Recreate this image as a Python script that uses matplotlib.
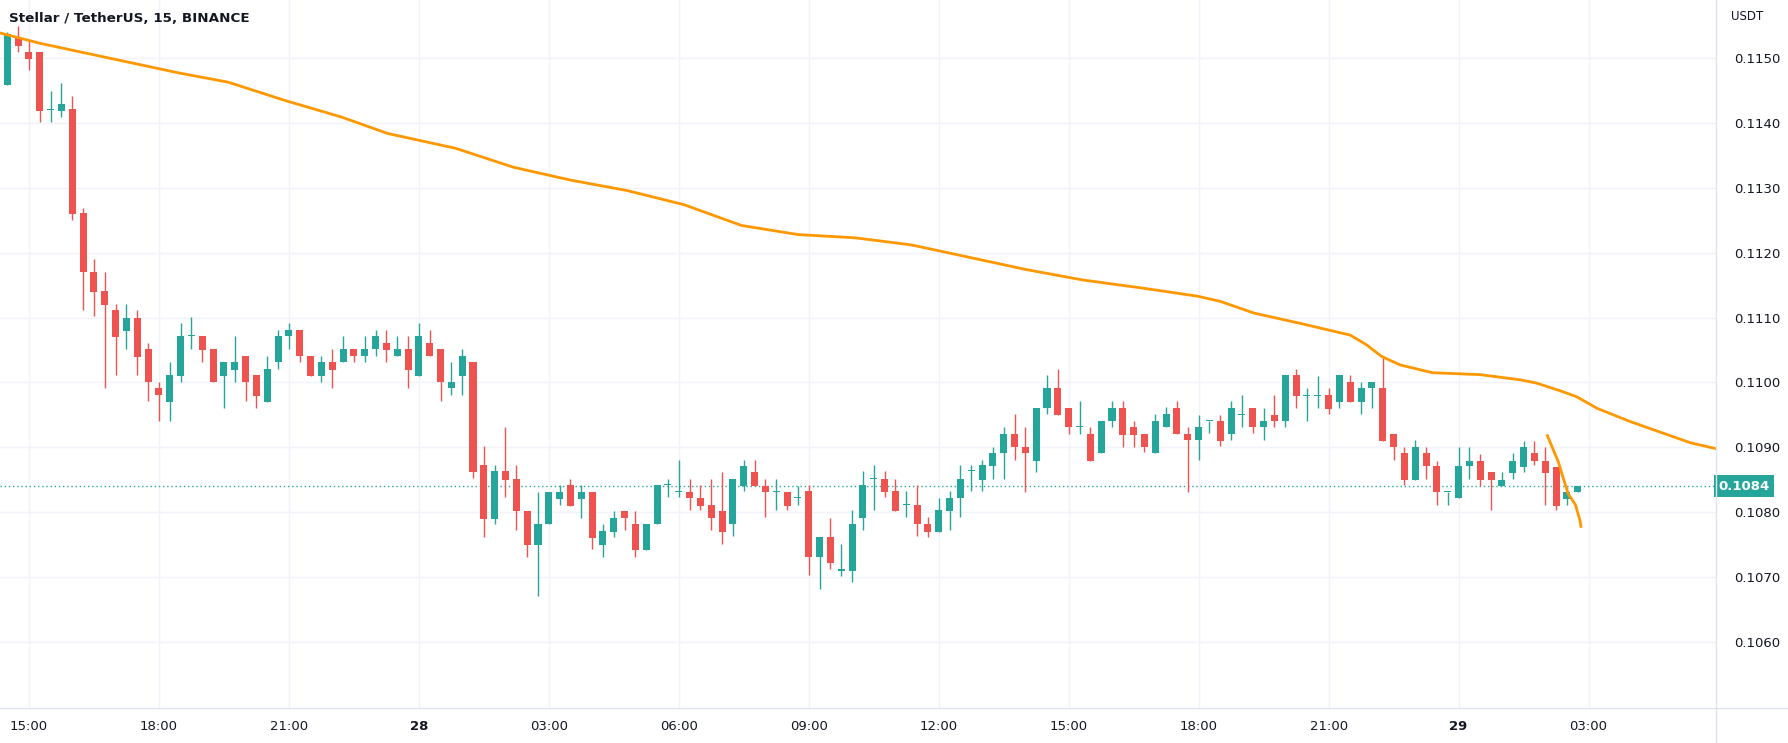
import matplotlib.pyplot as plt
import numpy as np

# 15 min candles, XLM/USDT, first bar 27th 14:30
opens = [0.11459, 0.11531, 0.11509, 0.11509, 0.11420, 0.11419, 0.11421, 0.11261, 0.11171, 0.11141,
         0.11111, 0.11079, 0.11100, 0.11051, 0.10991, 0.10970, 0.11010, 0.11071, 0.11071, 0.11051,
         0.11010, 0.11019, 0.11040, 0.11011, 0.10970, 0.11031, 0.11071, 0.11081, 0.11040, 0.11010,
         0.11031, 0.11031, 0.11051, 0.11040, 0.11051, 0.11061, 0.11040, 0.11051, 0.11010, 0.11061,
         0.11051, 0.10991, 0.11010, 0.11031, 0.10872, 0.10790, 0.10863, 0.10851, 0.10801, 0.10750,
         0.10781, 0.10821, 0.10842, 0.10821, 0.10831, 0.10750, 0.10770, 0.10801, 0.10782, 0.10741,
         0.10781, 0.10842, 0.10831, 0.10831, 0.10822, 0.10811, 0.10802, 0.10781, 0.10841, 0.10862,
         0.10841, 0.10831, 0.10831, 0.10822, 0.10832, 0.10731, 0.10762, 0.10710, 0.10710, 0.10791,
         0.10851, 0.10851, 0.10832, 0.10811, 0.10811, 0.10782, 0.10770, 0.10802, 0.10822, 0.10863,
         0.10850, 0.10871, 0.10891, 0.10921, 0.10900, 0.10879, 0.10960, 0.10991, 0.10961, 0.10931,
         0.10921, 0.10891, 0.10940, 0.10961, 0.10931, 0.10921, 0.10891, 0.10931, 0.10960, 0.10921,
         0.10911, 0.10940, 0.10940, 0.10921, 0.10950, 0.10960, 0.10931, 0.10950, 0.10940, 0.11011,
         0.10979, 0.10979, 0.10981, 0.10970, 0.11000, 0.10970, 0.10991, 0.10991, 0.10921, 0.10891,
         0.10850, 0.10891, 0.10871, 0.10831, 0.10822, 0.10871, 0.10879, 0.10862, 0.10841, 0.10861,
         0.10870, 0.10891, 0.10879, 0.10870, 0.10821, 0.10831]
highs = [0.11540, 0.11549, 0.11528, 0.11509, 0.11450, 0.11462, 0.11441, 0.11269, 0.11190, 0.11171,
         0.11121, 0.11121, 0.11112, 0.11061, 0.11000, 0.11032, 0.11092, 0.11101, 0.11071, 0.11051,
         0.11031, 0.11071, 0.11040, 0.11011, 0.11040, 0.11081, 0.11091, 0.11081, 0.11040, 0.11041,
         0.11051, 0.11071, 0.11051, 0.11071, 0.11081, 0.11081, 0.11071, 0.11071, 0.11092, 0.11081,
         0.11051, 0.11031, 0.11051, 0.11031, 0.10902, 0.10872, 0.10932, 0.10872, 0.10801, 0.10831,
         0.10831, 0.10842, 0.10851, 0.10842, 0.10831, 0.10782, 0.10801, 0.10801, 0.10801, 0.10782,
         0.10842, 0.10851, 0.10881, 0.10851, 0.10842, 0.10851, 0.10862, 0.10851, 0.10881, 0.10881,
         0.10851, 0.10851, 0.10831, 0.10841, 0.10842, 0.10762, 0.10791, 0.10751, 0.10803, 0.10863,
         0.10873, 0.10863, 0.10851, 0.10832, 0.10842, 0.10792, 0.10822, 0.10832, 0.10872, 0.10873,
         0.10881, 0.10901, 0.10931, 0.10951, 0.10931, 0.10961, 0.11011, 0.11021, 0.10961, 0.10971,
         0.10931, 0.10941, 0.10971, 0.10971, 0.10941, 0.10921, 0.10951, 0.10962, 0.10972, 0.10931,
         0.10950, 0.10940, 0.10950, 0.10972, 0.10981, 0.10960, 0.10960, 0.10981, 0.11011, 0.11021,
         0.10991, 0.11010, 0.10991, 0.11011, 0.11011, 0.11000, 0.11000, 0.11041, 0.10921, 0.10900,
         0.10911, 0.10900, 0.10879, 0.10831, 0.10900, 0.10900, 0.10890, 0.10862, 0.10862, 0.10891,
         0.10910, 0.10910, 0.10900, 0.10870, 0.10838, 0.10841]
lows = [0.11459, 0.11510, 0.11482, 0.11401, 0.11401, 0.11409, 0.11250, 0.11112, 0.11102, 0.10992,
        0.11011, 0.11051, 0.11012, 0.10972, 0.10941, 0.10941, 0.11001, 0.11051, 0.11032, 0.11000,
        0.10961, 0.11001, 0.10971, 0.10961, 0.10970, 0.11021, 0.11051, 0.11032, 0.11010, 0.11001,
        0.10991, 0.11031, 0.11032, 0.11032, 0.11041, 0.11032, 0.11040, 0.10991, 0.11010, 0.11040,
        0.10971, 0.10981, 0.10981, 0.10852, 0.10762, 0.10782, 0.10823, 0.10772, 0.10731, 0.10671,
        0.10781, 0.10811, 0.10810, 0.10791, 0.10743, 0.10731, 0.10762, 0.10772, 0.10731, 0.10741,
        0.10781, 0.10823, 0.10823, 0.10803, 0.10803, 0.10772, 0.10751, 0.10763, 0.10832, 0.10841,
        0.10792, 0.10803, 0.10803, 0.10811, 0.10703, 0.10682, 0.10712, 0.10702, 0.10692, 0.10772,
        0.10803, 0.10823, 0.10801, 0.10792, 0.10763, 0.10762, 0.10770, 0.10772, 0.10792, 0.10832,
        0.10832, 0.10851, 0.10851, 0.10881, 0.10831, 0.10862, 0.10951, 0.10950, 0.10921, 0.10921,
        0.10879, 0.10891, 0.10931, 0.10901, 0.10901, 0.10892, 0.10891, 0.10931, 0.10921, 0.10831,
        0.10881, 0.10922, 0.10902, 0.10912, 0.10931, 0.10922, 0.10912, 0.10931, 0.10931, 0.10960,
        0.10941, 0.10960, 0.10951, 0.10960, 0.10970, 0.10951, 0.10960, 0.10910, 0.10881, 0.10842,
        0.10850, 0.10851, 0.10811, 0.10811, 0.10822, 0.10851, 0.10841, 0.10803, 0.10841, 0.10851,
        0.10862, 0.10872, 0.10811, 0.10803, 0.10811, 0.10831]
closes = [0.11538, 0.11518, 0.11498, 0.11419, 0.11420, 0.11430, 0.11259, 0.11170, 0.11139, 0.11119,
          0.11070, 0.11100, 0.11039, 0.11000, 0.10980, 0.11011, 0.11071, 0.11071, 0.11050, 0.11000,
          0.11031, 0.11031, 0.11000, 0.10979, 0.11021, 0.11071, 0.11081, 0.11040, 0.11010, 0.11031,
          0.11019, 0.11051, 0.11040, 0.11051, 0.11071, 0.11050, 0.11051, 0.11019, 0.11071, 0.11040,
          0.11000, 0.11000, 0.11040, 0.10862, 0.10790, 0.10863, 0.10850, 0.10801, 0.10750, 0.10782,
          0.10831, 0.10831, 0.10810, 0.10831, 0.10760, 0.10771, 0.10791, 0.10791, 0.10741, 0.10782,
          0.10842, 0.10842, 0.10831, 0.10822, 0.10810, 0.10791, 0.10770, 0.10851, 0.10871, 0.10841,
          0.10831, 0.10831, 0.10810, 0.10822, 0.10731, 0.10762, 0.10721, 0.10710, 0.10782, 0.10842,
          0.10851, 0.10831, 0.10801, 0.10811, 0.10781, 0.10770, 0.10803, 0.10822, 0.10851, 0.10863,
          0.10872, 0.10891, 0.10921, 0.10900, 0.10891, 0.10961, 0.10991, 0.10950, 0.10931, 0.10931,
          0.10879, 0.10941, 0.10961, 0.10919, 0.10919, 0.10900, 0.10941, 0.10951, 0.10921, 0.10911,
          0.10931, 0.10940, 0.10910, 0.10960, 0.10950, 0.10931, 0.10940, 0.10940, 0.11011, 0.10979,
          0.10979, 0.10979, 0.10959, 0.11011, 0.10970, 0.10991, 0.11000, 0.10910, 0.10900, 0.10850,
          0.10900, 0.10871, 0.10831, 0.10831, 0.10871, 0.10879, 0.10850, 0.10850, 0.10850, 0.10879,
          0.10900, 0.10879, 0.10861, 0.10810, 0.10831, 0.10841]

# moving average (x in bar index)
ema_x = [-0.7, 3.0, 15.9, 20.4, 25.6, 30.9, 35.1, 41.4, 46.7, 52.0, 57.2, 62.5, 67.8, 73.0, 78.3,
         83.5, 88.8, 94.1, 99.3, 104.6, 109.9, 112.0, 115.1, 119.4, 124.0, 125.5, 126.9, 128.6, 131.6,
         136.0, 139.7, 141.2, 143.4, 144.9, 146.8, 149.8, 155.4, 158.0]
ema_y = [0.11539, 0.11523, 0.11477, 0.11463, 0.11435, 0.11409, 0.11384, 0.11361, 0.11332, 0.11312,
         0.11296, 0.11274, 0.11242, 0.11228, 0.11223, 0.11212, 0.11193, 0.11174, 0.11158, 0.11146,
         0.11133, 0.11125, 0.11107, 0.11091, 0.11073, 0.11058, 0.11040, 0.11027, 0.11015, 0.11012,
         0.11004, 0.10999, 0.10987, 0.10978, 0.10960, 0.10940, 0.10907, 0.10897]
# short line at the end
fast_x = [142.2, 143.2, 144.1, 144.8, 145.2, 145.3]
fast_y = [0.10918, 0.10878, 0.10829, 0.10811, 0.10788, 0.10778]

tick_pos = [2, 14, 26, 38, 50, 62, 74, 86, 98, 110, 122, 134, 146]
tick_labels = ["15:00", "18:00", "21:00", "28", "03:00", "06:00", "09:00", "12:00",
               "15:00", "18:00", "21:00", "29", "03:00"]
price_ticks = [0.1060, 0.1070, 0.1080, 0.1090, 0.1100, 0.1110, 0.1120, 0.1130, 0.1140, 0.1150]
last_price = 0.1084

up_col = "#26a69a"
down_col = "#ef5350"
grid_col = "#f0f3fa"
text_col = "#131722"

fig = plt.figure(figsize=(17.88, 7.43), dpi=100)
ax = fig.add_axes([0.0, 35 / 743, 1716 / 1788, 708 / 743])

o = np.array(opens)
h = np.array(highs)
l = np.array(lows)
c = np.array(closes)
x = np.arange(len(o))
cols = np.where(c >= o, up_col, down_col)

ax.vlines(x, l, h, colors=cols, linewidth=1, zorder=3)
body = np.maximum(np.abs(c - o), 0.000016)
ax.bar(x, body, bottom=np.minimum(o, c), width=0.65, color=cols, linewidth=0, zorder=4)

ax.plot(ema_x, ema_y, color="#ff9800", linewidth=2, zorder=5, solid_capstyle="butt")
ax.plot(fast_x, fast_y, color="#ff9800", linewidth=2, zorder=5)

ax.axhline(last_price, color=up_col, linestyle=(0, (1, 2)), linewidth=1, zorder=2)

ax.set_xlim(-0.674, 157.77)
ax.set_ylim(0.10498, 0.115897)

ax.set_xticks(tick_pos)
ax.set_xticklabels(tick_labels)
for t in ax.get_xticklabels():
    if t.get_text() in ("28", "29"):
        t.set_fontweight("bold")
ax.set_yticks(price_ticks)
ax.set_yticklabels(["%.4f" % p for p in price_ticks])
ax.yaxis.tick_right()
ax.tick_params(axis="x", length=0, pad=9, labelsize=9.5, labelcolor=text_col)
ax.tick_params(axis="y", length=0, pad=13, labelsize=9.5, labelcolor=text_col)
ax.grid(True, color=grid_col, linewidth=1)
ax.set_axisbelow(True)
for s in ax.spines.values():
    s.set_visible(False)

# price tag on the axis
ax.text(1.0015, last_price, "0.1084", transform=ax.get_yaxis_transform(), ha="left", va="center",
        fontsize=9.5, fontweight="bold", color="white", zorder=10,
        bbox=dict(boxstyle="square,pad=0.35", facecolor=up_col, edgecolor="none"))

# axis separators
fig.add_artist(plt.Line2D([1716 / 1788, 1716 / 1788], [0, 1], color="#e0e3eb", linewidth=1))
fig.add_artist(plt.Line2D([0, 1], [35 / 743, 35 / 743], color="#e0e3eb", linewidth=1))

fig.text(1731 / 1788, 1 - 17 / 743, "USDT", fontsize=8.5, color=text_col, va="center", ha="left")
fig.text(9 / 1788, 1 - 19 / 743, "Stellar / TetherUS, 15, BINANCE", fontsize=9.7,
         fontweight="bold", color=text_col, va="center", ha="left")

fig.savefig("out.png", dpi=100)
